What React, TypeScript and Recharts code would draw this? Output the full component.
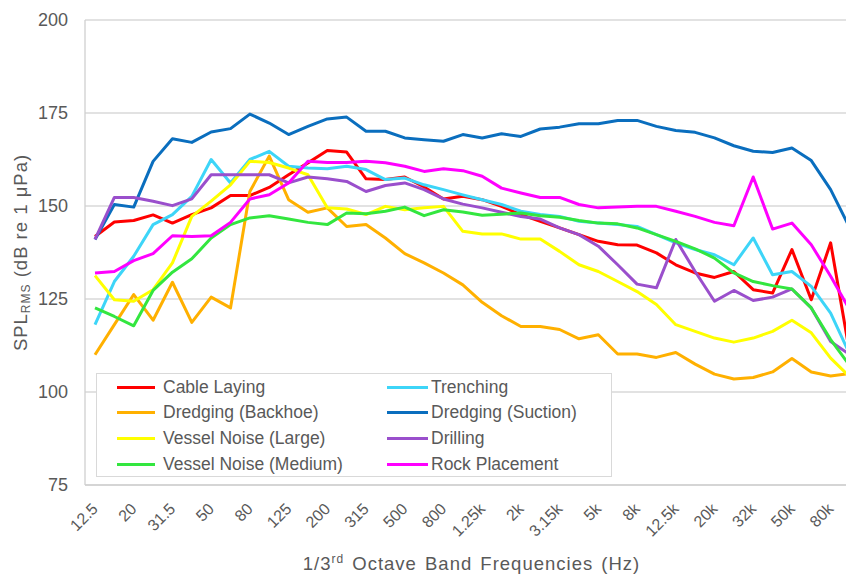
import React from 'react';
import { LineChart, Line, XAxis, YAxis, CartesianGrid, Legend, Label } from 'recharts';

const bands = ['12.5','16','20','25','31.5','40','50','63','80','100','125','160','200','250','315','400','500','630','800','1k','1.25k','1.6k','2k','2.5k','3.15k','4k','5k','6.3k','8k','10k','12.5k','16k','20k','25k','32k','40k','50k','63k','80k','100k'];

const cableLaying = [141.8,145.7,146.1,147.6,145.4,147.7,149.5,152.8,152.8,155.0,158.4,161.6,164.9,164.5,157.3,157.1,157.8,155.1,151.9,152.6,151.7,149.9,147.7,145.9,144.1,142.3,140.5,139.6,139.5,137.4,134.2,132.0,130.8,132.4,127.5,126.6,138.3,124.8,140.1,110];
const trenching = [118.1,129.7,136.5,145.0,147.7,152.6,162.5,156.2,162.5,164.7,160.7,160.2,160.0,160.7,159.8,157.1,157.5,155.7,154.4,153.0,151.7,150.4,148.6,147.7,147.2,145.9,145.4,145.0,144.5,142.3,140.1,138.3,136.9,134.2,141.4,131.5,132.4,128.4,121.2,110];
const dredgingBackhoe = [110.0,118.1,126.2,119.3,129.5,118.7,125.5,122.6,153.9,163.4,151.7,148.3,149.5,144.5,145.0,141.4,137.2,134.7,132.0,128.8,124.1,120.5,117.6,117.6,116.8,114.3,115.4,110.2,110.2,109.3,110.6,107.5,104.8,103.5,103.9,105.4,109.0,105.4,104.3,105];
const dredgingSuction = [141,150.4,149.7,162,168.1,167.1,169.9,170.8,174.7,172.3,169.2,171.4,173.4,173.9,170.1,170.1,168.3,167.8,167.4,169.2,168.3,169.4,168.7,170.7,171.2,172.1,172.1,173,173,171.4,170.3,169.8,168.3,166.2,164.7,164.4,165.6,162.2,154.4,144];
const vesselLarge = [131.3,124.8,124.4,127.5,134.7,147.2,151.3,155.7,162.0,161.7,160.2,158.4,149.5,149.2,147.7,149.9,149.0,149.5,149.9,143.2,142.5,142.5,141.1,141.1,137.8,134.2,132.4,129.7,127.0,123.5,118.1,116.3,114.5,113.4,114.5,116.3,119.3,115.9,109.1,104];
const drilling = [141,152.3,152.3,151.3,150.1,151.9,158.4,158.4,158.4,158.4,156.2,157.8,157.3,156.6,153.9,155.5,156.2,154.4,151.9,150.5,149.5,148.3,147.2,146.5,144.1,142.3,139.2,134.2,129.0,128.0,141.0,132.4,124.4,127.3,124.6,125.5,127.7,122.6,113.6,110];
const vesselMedium = [122.6,120.3,117.8,127.3,132.2,135.8,141.4,145.0,146.8,147.4,146.5,145.6,145.0,148.1,147.9,148.6,149.7,147.4,149.0,148.4,147.5,147.8,148.1,147.4,147.0,146.1,145.4,145.2,144.1,142.3,140.5,138.5,136.0,132.0,129.7,128.6,127.7,122.6,114.1,107];
const rockPlacement = [132.0,132.4,135.3,137.2,142.0,141.8,142.0,145.6,151.9,153.0,156.2,162.0,161.7,161.7,162.0,161.6,160.7,159.3,160.0,159.5,158.0,154.8,153.5,152.3,152.3,150.4,149.5,149.7,149.9,149.9,148.6,147.2,145.6,144.7,157.8,143.8,145.4,139.6,131.1,122];

const yTicks = [75, 100, 125, 150, 175, 200];

const seriesList = [
  { key: 'cable', name: 'Cable Laying', color: '#FF0000', values: cableLaying },
  { key: 'trench', name: 'Trenching', color: '#3DD5F8', values: trenching },
  { key: 'backhoe', name: 'Dredging (Backhoe)', color: '#FFB000', values: dredgingBackhoe },
  { key: 'suction', name: 'Dredging (Suction)', color: '#0A6EBE', values: dredgingSuction },
  { key: 'vlarge', name: 'Vessel Noise (Large)', color: '#FFFF00', values: vesselLarge },
  { key: 'drill', name: 'Drilling', color: '#9A4FCC', values: drilling },
  { key: 'vmedium', name: 'Vessel Noise (Medium)', color: '#33E63F', values: vesselMedium },
  { key: 'rock', name: 'Rock Placement', color: '#FF00FF', values: rockPlacement },
];

const data = bands.map((b, i) => {
  const row: any = { band: b };
  seriesList.forEach((s) => { row[s.key] = s.values[i]; });
  return row;
});

const FONT = '"Liberation Sans", Arial, sans-serif';
const TEXT = '#595959';

const XTick = (props: any) => {
  const { x, y, payload } = props;
  return (
    <g transform={`translate(${x},${y + 13})`}>
      <text textAnchor="end" dominantBaseline="central" transform="rotate(-45)" fill={TEXT} fontSize={16} fontFamily={FONT}>
        {payload.value}
      </text>
    </g>
  );
};

const renderLegend = () => (
  <div style={{ position: 'relative', width: 514, height: 102, border: '1px solid #d9d9d9', background: '#fff', fontFamily: FONT, fontSize: 17.5, color: TEXT }}>
    {seriesList.map((s, i) => {
      const col = i % 2;
      const row = Math.floor(i / 2);
      return (
        <div key={s.key} style={{ position: 'absolute', left: col ? 290 : 20, top: 13 + row * 25.8 - 11, height: 22, display: 'flex', alignItems: 'center', whiteSpace: 'nowrap' }}>
          <div style={{ width: col ? 41 : 38, height: 3, background: s.color, marginRight: col ? 3 : 8 }} />
          <span>{s.name}</span>
        </div>
      );
    })}
  </div>
);

export default function App() {
  return (
    <div style={{ position: 'fixed', left: 0, top: 0, width: 846, height: 577, overflow: 'hidden', background: '#fff' }}>
      <LineChart width={880} height={577} data={data} margin={{ top: 20, right: 20, bottom: 0, left: 0 }}>
        <CartesianGrid vertical={false} stroke="#d9d9d9" strokeWidth={1.3} />
        <XAxis
          dataKey="band"
          interval={1}
          tick={<XTick />}
          tickLine={false}
          axisLine={{ stroke: '#d0d0d0', strokeWidth: 1.3 }}
          height={92}
          padding={{ left: 10, right: 10 }}
        >
          <Label
            content={(p: any) => {
              const vb = p.viewBox;
              return (
                <text x={vb.x + vb.width / 2 - 1} y={570} textAnchor="middle" fill={TEXT} fontSize={18.5} fontFamily={FONT} letterSpacing={1} wordSpacing={2}>
                  1/3<tspan fontSize={12} dy={-7}>rd</tspan><tspan dy={7}> Octave Band Frequencies (Hz)</tspan>
                </text>
              );
            }}
          />
        </XAxis>
        <YAxis
          type="number"
          domain={[75, 200]}
          ticks={yTicks}
          width={85}
          tickLine={false}
          tickMargin={11}
          axisLine={{ stroke: '#d0d0d0', strokeWidth: 1.3 }}
          tick={{ fill: TEXT, fontSize: 18, fontFamily: FONT }}
        >
          <Label
            content={(p: any) => {
              const vb = p.viewBox;
              const cy = vb.y + vb.height / 2;
              return (
                <text transform={`translate(27,${cy}) rotate(-90)`} textAnchor="middle" fill={TEXT} fontSize={18.5} fontFamily={FONT} letterSpacing={1}>
                  SPL<tspan fontSize={12} dy={3}>RMS</tspan><tspan dy={-3}> (dB re 1 μPa)</tspan>
                </text>
              );
            }}
          />
        </YAxis>
        <Legend
          layout="horizontal"
          verticalAlign="middle"
          align="center"
          content={renderLegend}
          wrapperStyle={{ position: 'absolute', left: 96, top: 373, width: 516, height: 104 }}
        />
        {seriesList.map((s) => (
          <Line
            key={s.key}
            type="linear"
            dataKey={s.key}
            name={s.name}
            stroke={s.color}
            strokeWidth={3}
            dot={false}
            activeDot={false}
            strokeLinejoin="round"
            isAnimationActive={false}
          />
        ))}
      </LineChart>
    </div>
  );
}
